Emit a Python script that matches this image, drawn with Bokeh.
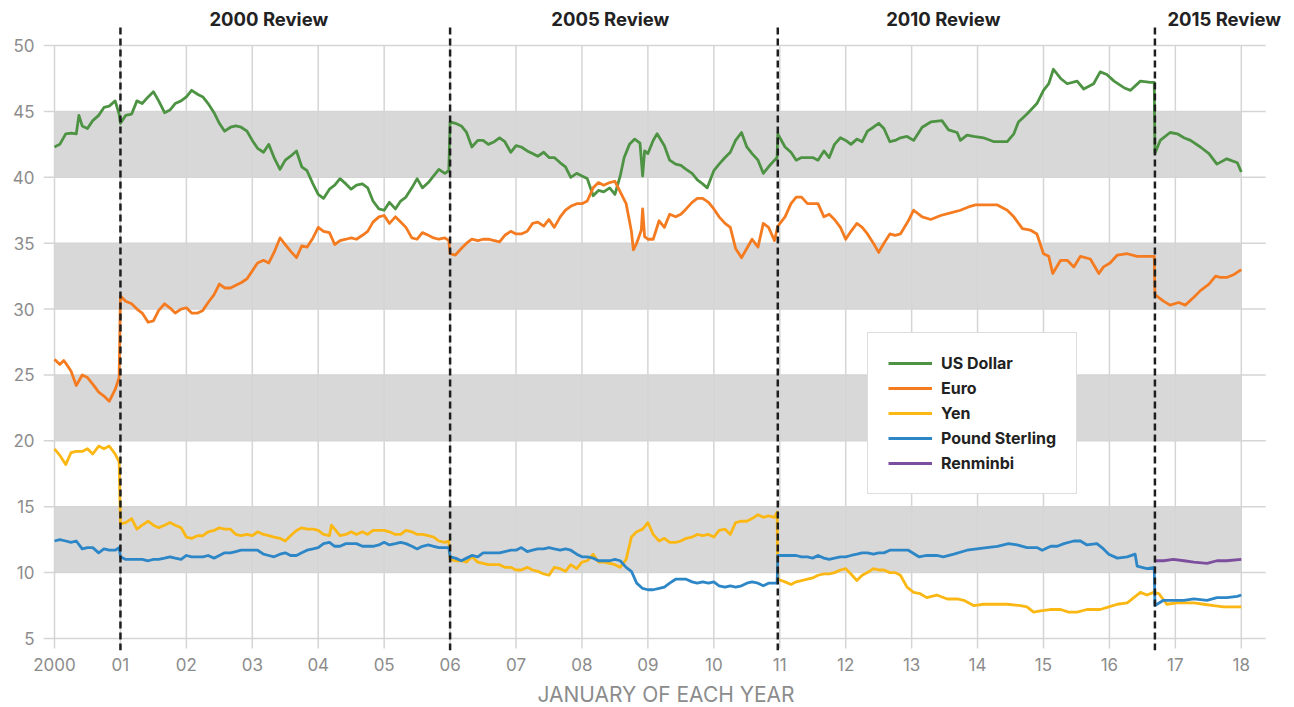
from bokeh.plotting import figure
from bokeh.models import Range1d, FixedTicker, Legend, LegendItem
from bokeh.core.properties import value
from bokeh.embed import file_html
from bokeh.resources import INLINE

# ---------------- data (x = years since Jan 2000) ----------------
years = list(range(0, 19))
year_labels = ["2000", "01", "02", "03", "04", "05", "06", "07", "08", "09",
               "10", "11", "12", "13", "14", "15", "16", "17", "18"]
y_ticks = [5, 10, 15, 20, 25, 30, 35, 40, 45, 50]
band_bottoms = [10, 20, 30, 40]
band_tops = [15, 25, 35, 45]
review_dates = [1.0, 6.0, 10.97, 16.69]
review_labels = ["2000 Review", "2005 Review", "2010 Review", "2015 Review"]
review_label_x = [3.25, 8.43, 13.48, 17.74]

usd_t = [0.00, 0.08, 0.17, 0.25, 0.33, 0.37, 0.42, 0.5, 0.58, 0.67, 0.75, 0.83, 0.92, 0.98,
         1.0, 1.08, 1.17, 1.25, 1.33, 1.42, 1.5, 1.58, 1.67, 1.75, 1.83, 1.92,
         2.0, 2.08, 2.17, 2.25, 2.33, 2.42, 2.5, 2.58, 2.67, 2.75, 2.83, 2.92,
         3.0, 3.08, 3.17, 3.25, 3.33, 3.42, 3.5, 3.58, 3.67, 3.75, 3.83, 3.92,
         4.0, 4.08, 4.17, 4.25, 4.33, 4.42, 4.5, 4.58, 4.67, 4.75, 4.83, 4.92,
         5.0, 5.08, 5.17, 5.25, 5.33, 5.42, 5.5, 5.58, 5.67, 5.75, 5.83, 5.92, 5.98,
         6.0, 6.08, 6.17, 6.25, 6.33, 6.42, 6.5, 6.58, 6.67, 6.75, 6.83, 6.92,
         7.0, 7.08, 7.17, 7.25, 7.33, 7.42, 7.5, 7.58, 7.67, 7.75, 7.83, 7.92,
         8.0, 8.08, 8.17, 8.25, 8.33, 8.42, 8.5, 8.58, 8.64, 8.72, 8.8, 8.88, 8.92, 8.95,
         9.0, 9.08, 9.14, 9.25, 9.33, 9.42, 9.5, 9.58, 9.67, 9.75, 9.83, 9.9,
         10.0, 10.08, 10.17, 10.25, 10.33, 10.42, 10.5, 10.58, 10.67, 10.75, 10.83, 10.92, 10.96,
         10.97, 11.08, 11.17, 11.25, 11.33, 11.42, 11.5, 11.58, 11.67, 11.75, 11.83, 11.92,
         12.0, 12.08, 12.17, 12.25, 12.33, 12.42, 12.5, 12.58, 12.67, 12.75, 12.83, 12.93,
         13.03, 13.16, 13.29, 13.46, 13.56, 13.69, 13.74, 13.84, 13.94,
         14.09, 14.25, 14.45, 14.55, 14.62, 14.75, 14.9,
         15.0, 15.08, 15.15, 15.26, 15.36, 15.51, 15.61, 15.76, 15.86, 15.96,
         16.07, 16.22, 16.32, 16.47, 16.62, 16.68,
         16.69, 16.77, 16.92, 17.03, 17.13, 17.23, 17.38, 17.51, 17.63, 17.78, 17.94, 18.0]
usd_v = [42.3, 42.5, 43.3, 43.35, 43.3, 44.7, 43.9, 43.7, 44.3, 44.7, 45.3, 45.4, 45.8, 44.8,
         44.1, 44.7, 44.8, 45.8, 45.6, 46.1, 46.5, 45.8, 44.9, 45.1, 45.6, 45.8,
         46.1, 46.6, 46.3, 46.1, 45.6, 44.9, 44.1, 43.5, 43.8, 43.9, 43.8, 43.5,
         42.8, 42.2, 41.9, 42.5, 41.5, 40.6, 41.3, 41.6, 42.0, 40.8, 40.5, 39.5,
         38.7, 38.4, 39.1, 39.4, 39.9, 39.5, 39.1, 39.4, 39.5, 39.2, 38.2, 37.6,
         37.5, 38.1, 37.6, 38.2, 38.5, 39.2, 39.9, 39.2, 39.6, 40.1, 40.6, 40.3, 40.5,
         44.2, 44.1, 43.9, 43.4, 42.3, 42.8, 42.8, 42.5, 42.7, 43.0, 42.7, 41.9,
         42.4, 42.3, 42.0, 41.8, 41.6, 41.9, 41.5, 41.5, 41.1, 40.8, 40.0, 40.3,
         40.1, 39.9, 38.6, 39.0, 38.9, 39.2, 38.7, 40.1, 41.5, 42.5, 42.9, 42.6, 40.1, 42.0,
         41.8, 42.8, 43.3, 42.4, 41.3, 41.0, 40.9, 40.6, 40.3, 39.8, 39.5, 39.2,
         40.5, 41.0, 41.5, 41.9, 42.8, 43.4, 42.3, 41.8, 41.3, 40.3, 40.8, 41.3, 41.5,
         43.3, 42.3, 41.9, 41.3, 41.5, 41.5, 41.5, 41.3, 42.0, 41.5, 42.5, 43.0,
         42.8, 42.5, 42.9, 42.7, 43.5, 43.8, 44.1, 43.7, 42.7, 42.8, 43.0, 43.1,
         42.8, 43.8, 44.2, 44.3, 43.6, 43.4, 42.8, 43.2, 43.1,
         43.0, 42.7, 42.7, 43.3, 44.2, 44.8, 45.6,
         46.6, 47.1, 48.2, 47.5, 47.1, 47.3, 46.7, 47.1, 48.0, 47.8,
         47.3, 46.8, 46.6, 47.3, 47.2, 47.2,
         41.8, 42.8, 43.4, 43.3, 43.0, 42.8, 42.3, 41.8, 41.0, 41.4, 41.1, 40.4]

eur_t = [0.0, 0.08, 0.14, 0.17, 0.25, 0.33, 0.42, 0.5, 0.58, 0.67, 0.75, 0.83, 0.92, 0.98,
         1.0, 1.08, 1.17, 1.25, 1.33, 1.42, 1.5, 1.58, 1.67, 1.75, 1.83, 1.92,
         2.0, 2.08, 2.17, 2.25, 2.33, 2.42, 2.5, 2.58, 2.67, 2.75, 2.83, 2.92,
         3.0, 3.08, 3.17, 3.25, 3.33, 3.42, 3.5, 3.58, 3.67, 3.75, 3.83, 3.92,
         4.0, 4.08, 4.17, 4.25, 4.33, 4.42, 4.5, 4.58, 4.67, 4.75, 4.83, 4.92,
         5.0, 5.08, 5.17, 5.25, 5.33, 5.42, 5.5, 5.58, 5.67, 5.75, 5.83, 5.92, 5.98,
         6.0, 6.08, 6.17, 6.25, 6.33, 6.42, 6.5, 6.58, 6.67, 6.75, 6.83, 6.92,
         7.0, 7.08, 7.17, 7.25, 7.33, 7.42, 7.5, 7.58, 7.67, 7.75, 7.83, 7.92,
         8.0, 8.08, 8.17, 8.25, 8.33, 8.42, 8.5, 8.58, 8.67, 8.75, 8.78, 8.83, 8.9, 8.92, 8.95,
         9.0, 9.08, 9.17, 9.25, 9.33, 9.42, 9.5, 9.58, 9.67, 9.75, 9.83, 9.92,
         10.0, 10.08, 10.17, 10.25, 10.33, 10.42, 10.5, 10.58, 10.67, 10.75, 10.83, 10.92,
         10.97, 11.08, 11.17, 11.25, 11.33, 11.42, 11.5, 11.58, 11.67, 11.75, 11.83, 11.92,
         12.0, 12.08, 12.17, 12.25, 12.33, 12.42, 12.5, 12.58, 12.67, 12.75, 12.83, 12.95,
         13.03, 13.16, 13.29, 13.44, 13.59, 13.74, 13.89, 13.97,
         14.15, 14.3, 14.45, 14.55, 14.68, 14.8, 14.9,
         15.0, 15.08, 15.14, 15.26, 15.36, 15.46, 15.56, 15.71, 15.84, 15.91,
         16.01, 16.12, 16.27, 16.42, 16.57, 16.68,
         16.69, 16.82, 16.92, 17.05, 17.15, 17.28, 17.38, 17.51, 17.61, 17.68, 17.78, 17.88, 18.0]
eur_v = [26.2, 25.8, 26.1, 25.9, 25.3, 24.2, 25.0, 24.8, 24.3, 23.7, 23.4, 23.0, 23.9, 24.8,
         31.0, 30.6, 30.4, 30.0, 29.7, 29.0, 29.1, 29.9, 30.4, 30.1, 29.7, 30.0,
         30.1, 29.7, 29.7, 29.9, 30.5, 31.1, 31.9, 31.6, 31.6, 31.8, 32.0, 32.3,
         32.9, 33.5, 33.7, 33.5, 34.3, 35.4, 34.9, 34.4, 33.9, 34.8, 34.7, 35.4,
         36.2, 35.9, 35.8, 34.9, 35.2, 35.3, 35.4, 35.3, 35.6, 35.9, 36.6, 37.0,
         37.1, 36.5, 37.0, 36.6, 36.2, 35.4, 35.3, 35.8, 35.6, 35.4, 35.3, 35.4, 35.2,
         34.2, 34.1, 34.6, 35.0, 35.3, 35.2, 35.3, 35.3, 35.2, 35.1, 35.6, 35.9,
         35.7, 35.7, 35.9, 36.5, 36.6, 36.3, 36.8, 36.2, 37.0, 37.5, 37.8, 38.0,
         38.0, 38.2, 39.2, 39.6, 39.4, 39.6, 39.7, 38.9, 38.0, 35.9, 34.5, 35.0, 36.0, 37.6, 35.5,
         35.3, 35.3, 36.7, 36.2, 37.2, 37.0, 37.2, 37.6, 38.1, 38.4, 38.4, 38.1,
         37.6, 37.0, 36.5, 36.2, 34.6, 33.9, 34.6, 35.3, 34.7, 36.5, 36.2, 35.2,
         36.3, 37.0, 38.0, 38.5, 38.5, 38.0, 38.0, 38.0, 37.0, 37.2, 36.8, 36.2,
         35.3, 35.9, 36.5, 36.2, 35.7, 35.0, 34.3, 35.0, 35.7, 35.6, 35.7, 36.7,
         37.5, 37.0, 36.8, 37.1, 37.3, 37.5, 37.8, 37.9,
         37.9, 37.9, 37.5, 37.0, 36.1, 36.0, 35.7,
         34.2, 34.0, 32.7, 33.7, 33.7, 33.2, 34.0, 33.8, 32.7, 33.2,
         33.5, 34.1, 34.2, 34.0, 34.0, 34.0,
         31.1, 30.6, 30.3, 30.5, 30.3, 30.9, 31.4, 31.9, 32.5, 32.4, 32.4, 32.6, 33.0]

jpy_t = [0.0, 0.08, 0.17, 0.25, 0.33, 0.42, 0.5, 0.58, 0.67, 0.75, 0.83, 0.92, 0.98,
         1.0, 1.08, 1.17, 1.25, 1.33, 1.42, 1.5, 1.58, 1.67, 1.75, 1.83, 1.92,
         2.0, 2.08, 2.17, 2.25, 2.33, 2.42, 2.5, 2.58, 2.67, 2.75, 2.83, 2.92,
         3.0, 3.08, 3.17, 3.25, 3.33, 3.42, 3.5, 3.58, 3.67, 3.75, 3.83, 3.92,
         4.0, 4.08, 4.17, 4.2, 4.25, 4.33, 4.42, 4.5, 4.58, 4.67, 4.75, 4.83, 4.92,
         5.0, 5.08, 5.17, 5.25, 5.33, 5.42, 5.5, 5.58, 5.67, 5.75, 5.83, 5.92, 5.98,
         6.0, 6.08, 6.17, 6.25, 6.33, 6.42, 6.5, 6.58, 6.67, 6.75, 6.83, 6.92,
         7.0, 7.08, 7.17, 7.25, 7.33, 7.42, 7.5, 7.58, 7.67, 7.75, 7.83, 7.92,
         8.0, 8.08, 8.17, 8.25, 8.33, 8.42, 8.5, 8.58, 8.67, 8.75, 8.83, 8.92,
         9.0, 9.08, 9.17, 9.25, 9.33, 9.42, 9.5, 9.58, 9.67, 9.75, 9.83, 9.92,
         10.0, 10.08, 10.17, 10.25, 10.33, 10.42, 10.5, 10.58, 10.67, 10.75, 10.83, 10.92, 10.96,
         10.97, 11.08, 11.17, 11.25, 11.33, 11.42, 11.5, 11.58, 11.67, 11.75, 11.83, 11.92,
         12.0, 12.08, 12.17, 12.25, 12.33, 12.42, 12.5, 12.58, 12.67, 12.75, 12.83, 12.93,
         13.03, 13.13, 13.23, 13.38, 13.54, 13.69, 13.79, 13.94,
         14.09, 14.25, 14.45, 14.65, 14.75, 14.85, 14.95,
         15.1, 15.26, 15.38, 15.51, 15.66, 15.86, 15.99,
         16.12, 16.27, 16.37, 16.47, 16.57, 16.67, 16.75, 16.87,
         17.03, 17.18, 17.28, 17.43, 17.58, 17.73, 17.88, 18.0]
jpy_v = [19.4, 18.9, 18.2, 19.1, 19.2, 19.2, 19.4, 19.0, 19.6, 19.4, 19.6, 19.0, 18.4,
         13.7, 13.8, 14.1, 13.3, 13.6, 13.9, 13.6, 13.4, 13.6, 13.8, 13.6, 13.4,
         12.7, 12.6, 12.8, 12.8, 13.1, 13.2, 13.4, 13.3, 13.3, 12.9, 12.8, 12.9,
         12.8, 13.1, 12.9, 12.8, 12.7, 12.6, 12.4, 12.8, 13.2, 13.4, 13.3, 13.3,
         13.2, 12.9, 12.8, 13.6, 13.3, 12.8, 12.9, 13.1, 12.9, 13.1, 12.9, 13.2, 13.2,
         13.2, 13.1, 12.9, 12.9, 13.2, 13.1, 12.9, 12.9, 12.8, 12.7, 12.4, 12.3, 12.4,
         11.0, 10.9, 10.9, 10.8, 11.2, 10.8, 10.7, 10.6, 10.6, 10.6, 10.4, 10.4,
         10.2, 10.2, 10.4, 10.2, 10.1, 9.9, 9.8, 10.4, 10.3, 10.1, 10.6, 10.3,
         10.8, 10.9, 11.4, 10.8, 10.8, 10.7, 10.6, 10.4, 11.0, 12.7, 13.1, 13.3,
         13.8, 12.9, 12.4, 12.6, 12.3, 12.3, 12.4, 12.6, 12.7, 12.9, 12.8, 12.9,
         12.7, 13.2, 13.3, 12.9, 13.8, 13.9, 13.9, 14.1, 14.4, 14.2, 14.3, 14.2, 14.6,
         9.5, 9.3, 9.1, 9.3, 9.4, 9.5, 9.6, 9.8, 9.9, 9.9, 10.0, 10.2,
         10.3, 9.9, 9.4, 9.8, 10.0, 10.3, 10.2, 10.2, 10.0, 10.0, 9.8, 8.9,
         8.5, 8.4, 8.1, 8.3, 8.0, 8.0, 7.9, 7.5,
         7.6, 7.6, 7.6, 7.5, 7.4, 7.0, 7.1,
         7.2, 7.2, 7.0, 7.0, 7.2, 7.2, 7.4,
         7.6, 7.7, 8.1, 8.5, 8.3, 8.5, 8.4, 7.6,
         7.7, 7.7, 7.7, 7.6, 7.5, 7.4, 7.4, 7.4]

gbp_t = [0.0, 0.08, 0.17, 0.25, 0.33, 0.42, 0.5, 0.58, 0.67, 0.75, 0.83, 0.92, 0.98,
         1.0, 1.08, 1.17, 1.25, 1.33, 1.42, 1.5, 1.58, 1.67, 1.75, 1.83, 1.92,
         2.0, 2.08, 2.17, 2.25, 2.33, 2.42, 2.5, 2.58, 2.67, 2.75, 2.83, 2.92,
         3.0, 3.08, 3.17, 3.25, 3.33, 3.42, 3.5, 3.58, 3.67, 3.75, 3.83, 3.92,
         4.0, 4.08, 4.17, 4.25, 4.33, 4.42, 4.5, 4.58, 4.67, 4.75, 4.83, 4.92,
         5.0, 5.08, 5.17, 5.25, 5.33, 5.42, 5.5, 5.58, 5.67, 5.75, 5.83, 5.92, 5.98,
         6.0, 6.08, 6.17, 6.25, 6.33, 6.42, 6.5, 6.58, 6.67, 6.75, 6.83, 6.92,
         7.0, 7.08, 7.17, 7.25, 7.33, 7.42, 7.5, 7.58, 7.67, 7.75, 7.83, 7.92,
         8.0, 8.08, 8.17, 8.25, 8.33, 8.42, 8.5, 8.58, 8.67, 8.75, 8.83, 8.92,
         9.0, 9.08, 9.17, 9.25, 9.33, 9.42, 9.5, 9.58, 9.67, 9.75, 9.83, 9.92,
         10.0, 10.08, 10.17, 10.25, 10.33, 10.42, 10.5, 10.58, 10.67, 10.75, 10.83, 10.92, 10.96,
         10.97, 11.08, 11.17, 11.25, 11.33, 11.42, 11.5, 11.58, 11.67, 11.75, 11.83, 11.92,
         12.0, 12.08, 12.17, 12.25, 12.33, 12.42, 12.5, 12.58, 12.67, 12.75, 12.95,
         13.11, 13.23, 13.38, 13.48, 13.64, 13.84, 13.99,
         14.14, 14.3, 14.47, 14.6, 14.75, 14.9, 14.98,
         15.11, 15.21, 15.31, 15.46, 15.56, 15.66, 15.81, 15.91, 15.99,
         16.12, 16.27, 16.39, 16.42, 16.57, 16.68,
         16.69, 16.82, 16.97, 17.13, 17.28, 17.48, 17.63, 17.78, 17.94, 18.0]
gbp_v = [12.4, 12.5, 12.4, 12.3, 12.4, 11.8, 11.9, 11.9, 11.5, 11.8, 11.7, 11.7, 11.9,
         11.2, 11.0, 11.0, 11.0, 11.0, 10.9, 11.0, 11.0, 11.1, 11.2, 11.1, 11.0,
         11.3, 11.2, 11.2, 11.2, 11.3, 11.1, 11.3, 11.5, 11.5, 11.6, 11.7, 11.7,
         11.7, 11.7, 11.4, 11.3, 11.2, 11.4, 11.5, 11.3, 11.3, 11.5, 11.7, 11.8,
         11.9, 12.2, 12.3, 12.0, 12.0, 12.2, 12.2, 12.2, 12.0, 12.0, 12.0, 12.1,
         12.3, 12.1, 12.2, 12.3, 12.2, 12.0, 11.8, 12.0, 12.1, 12.0, 11.9, 11.9, 11.9,
         11.2, 11.1, 10.9, 11.1, 11.3, 11.2, 11.5, 11.5, 11.5, 11.5, 11.6, 11.7,
         11.7, 11.9, 11.6, 11.7, 11.8, 11.8, 11.9, 11.8, 11.7, 11.8, 11.7, 11.4,
         11.2, 11.2, 11.1, 10.9, 10.9, 10.9, 11.0, 10.9, 10.4, 10.1, 9.2, 8.8,
         8.7, 8.7, 8.8, 8.9, 9.2, 9.5, 9.5, 9.5, 9.3, 9.2, 9.3, 9.2,
         9.3, 9.0, 8.9, 9.0, 8.9, 9.0, 9.2, 9.3, 9.2, 9.0, 9.2, 9.2, 9.2,
         11.3, 11.3, 11.3, 11.3, 11.2, 11.2, 11.1, 11.3, 11.1, 11.0, 11.1, 11.2,
         11.2, 11.3, 11.4, 11.5, 11.5, 11.4, 11.5, 11.5, 11.7, 11.7, 11.7,
         11.2, 11.3, 11.3, 11.2, 11.4, 11.7, 11.8,
         11.9, 12.0, 12.2, 12.1, 11.9, 11.9, 11.7,
         12.0, 12.0, 12.2, 12.4, 12.4, 12.1, 12.2, 11.8, 11.4,
         11.1, 11.2, 11.4, 10.5, 10.3, 10.4,
         7.5, 7.9, 7.9, 7.9, 8.0, 7.9, 8.1, 8.1, 8.2, 8.3]

cny_t = [16.69, 16.82, 16.97, 17.13, 17.28, 17.48, 17.63, 17.78, 18.0]
cny_v = [10.9, 10.9, 11.0, 10.9, 10.8, 10.7, 10.9, 10.9, 11.0]

series_names = ["US Dollar", "Euro", "Yen", "Pound Sterling", "Renminbi"]
series_colors = ["#4d9343", "#f47b20", "#fbb814", "#2d86c6", "#7d4e9d"]

# ---------------- figure ----------------
FONT = "Inter"
p = figure(frame_width=1245, frame_height=642,
           x_range=Range1d(-0.167, 18.716), y_range=Range1d(4.09, 52.81),
           output_backend="svg", toolbar_location=None,
           min_border_left=43, min_border_right=0, min_border_top=8, min_border_bottom=0)
p.outline_line_color = None
p.background_fill_color = "white"
p.xgrid.visible = False
p.ygrid.visible = False

# bands
p.quad(left=years[0], right=years[-1], bottom=band_bottoms, top=band_tops,
       fill_color="#d9d8d9", line_color=None)

# grid lines
p.segment(x0=[-0.167] * len(y_ticks), x1=[18.37] * len(y_ticks), y0=y_ticks, y1=y_ticks,
          line_color="#d5d5d5", line_width=1.5)
p.segment(x0=years, x1=years, y0=[4.24] * len(years), y1=[50] * len(years),
          line_color="#d5d5d5", line_width=1.5)

# series
renderers = []
for t, v, c in [(usd_t, usd_v, series_colors[0]), (eur_t, eur_v, series_colors[1]),
                (jpy_t, jpy_v, series_colors[2]), (gbp_t, gbp_v, series_colors[3]),
                (cny_t, cny_v, series_colors[4])]:
    r = p.line(t, v, line_color=c, line_width=2.8, line_join="round")
    renderers.append(r)

# review dashed lines
p.segment(x0=review_dates, x1=review_dates, y0=[4.09] * 4, y1=[51.6] * 4,
          line_color="#1e1e1e", line_width=2.5, line_dash="7 4")
p.text(x=review_label_x, y=[52.0] * 4, text=review_labels,
       text_font=value(FONT), text_font_style="bold", text_font_size="18.5px",
       text_color="#222222", text_align="center", text_baseline="middle")

# axes
p.xaxis.ticker = FixedTicker(ticks=years)
p.xaxis.major_label_overrides = {y: lab for y, lab in zip(years, year_labels)}
p.yaxis.ticker = FixedTicker(ticks=y_ticks)
for ax in (p.xaxis[0], p.yaxis[0]):
    ax.axis_line_color = None
    ax.major_tick_line_color = None
    ax.minor_tick_line_color = None
    ax.major_tick_out = 0
    ax.major_tick_in = 0
    ax.major_label_text_font = FONT
    ax.major_label_text_font_size = "17px"
    ax.major_label_text_color = "#8c8c8c"
p.xaxis.major_label_standoff = 7
p.yaxis.major_label_standoff = 9
p.xaxis.axis_label = "JANUARY OF EACH YEAR"
p.xaxis.axis_label_text_font = FONT
p.xaxis.axis_label_text_font_size = "21px"
p.xaxis.axis_label_text_font_style = "normal"
p.xaxis.axis_label_text_color = "#8c8c8c"
p.xaxis.axis_label_standoff = 8

# legend
items = [LegendItem(label=n, renderers=[r]) for n, r in zip(series_names, renderers)]
legend = Legend(items=items, location=(824, 156), orientation="vertical",
                label_text_font=FONT, label_text_font_style="bold",
                label_text_font_size="16px", label_text_color="#222222",
                glyph_width=44, glyph_height=20, label_height=20, spacing=5,
                label_standoff=9, padding=20, margin=0,
                border_line_color="#bbbbbb", border_line_width=1.5,
                background_fill_color="white", background_fill_alpha=1.0)
p.add_layout(legend, "center")

open("out.html", "w").write(file_html(p, INLINE))
